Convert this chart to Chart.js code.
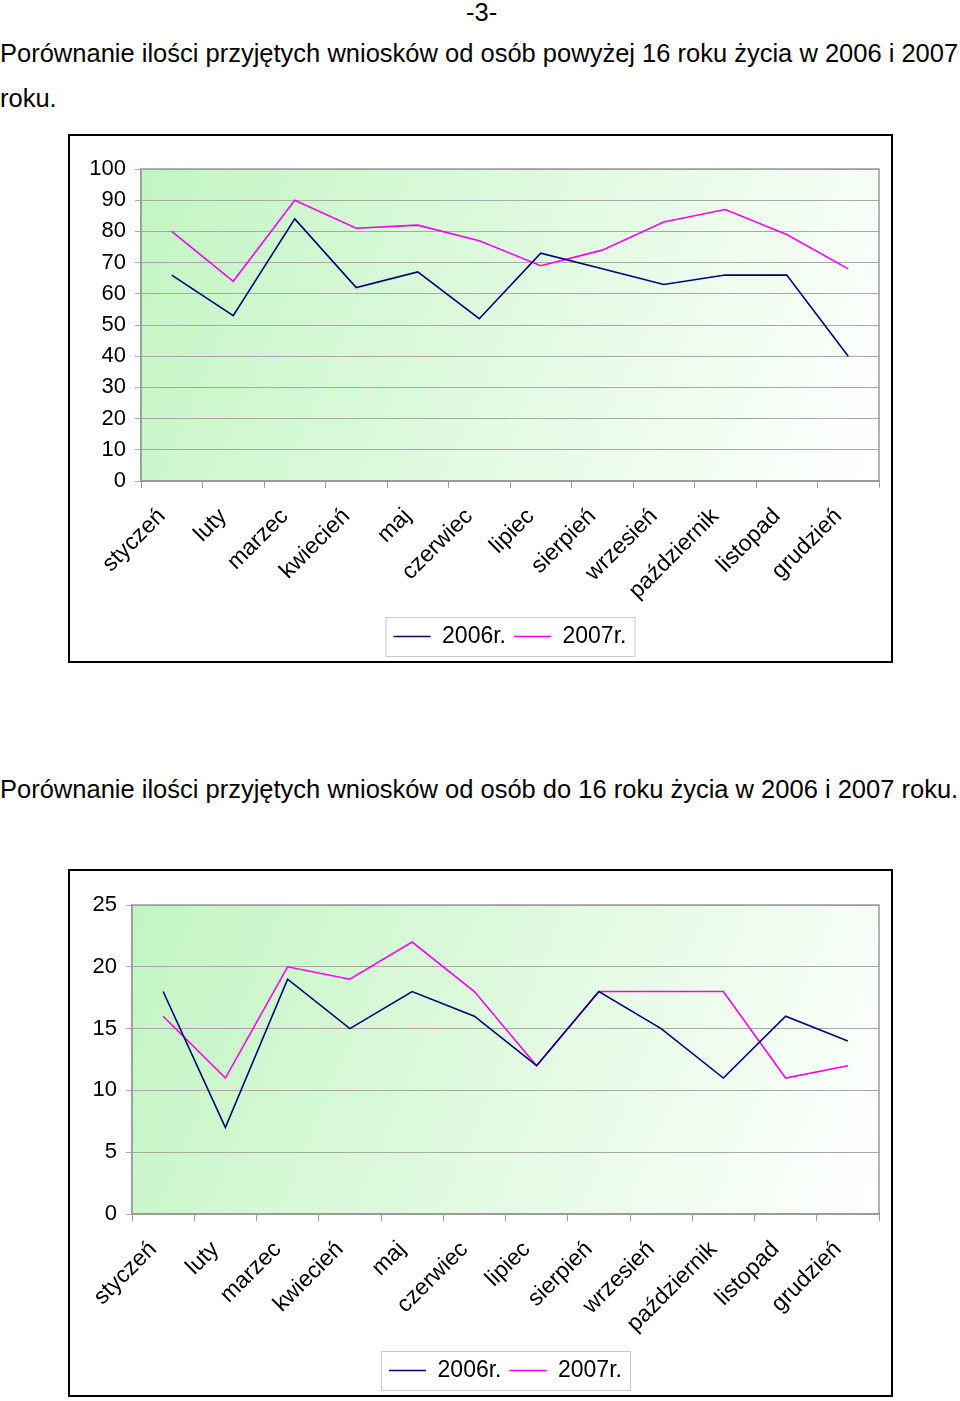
<!DOCTYPE html>
<html>
<head>
<meta charset="utf-8">
<script src="https://cdn.jsdelivr.net/npm/chart.js@4"></script>
<style>
  body { margin: 0; background: #fff; font-family: "Liberation Sans", Arial, sans-serif; color: #000; }
  .page { position: relative; width: 960px; height: 1401px; overflow: hidden; }
  .txt { position: absolute; font-size: 25.5px; white-space: nowrap; line-height: 1; }
  .box { position: absolute; border: 2px solid #000; background: #fff; }
  .box canvas { display: block; }
</style>
</head>
<body>
<div class="page">
  <div class="txt" style="left:466px; top:0px;">-3-</div>
  <div class="txt" style="left:0px; top:41px;">Porównanie ilości przyjętych wniosków od osób powyżej 16 roku życia w 2006 i 2007</div>
  <div class="txt" style="left:0px; top:86px;">roku.</div>
  <div class="txt" style="left:0px; top:777px;">Porównanie ilości przyjętych wniosków od osób do 16 roku życia w 2006 i 2007 roku.</div>

  <div class="box" style="left:68px; top:134px; width:821px; height:525px;">
    <canvas id="chart1" width="821" height="525"></canvas>
  </div>
  <div class="box" style="left:68px; top:869px; width:821px; height:524px;">
    <canvas id="chart2" width="821" height="524"></canvas>
  </div>
</div>

<script>
// ================================
// Data
// ================================

const months = ["styczeń", "luty", "marzec", "kwiecień", "maj", "czerwiec",
  "lipiec", "sierpień", "wrzesień", "październik", "listopad", "grudzień"]

const seriesNames = ["2006r.", "2007r."]

// powyżej 16 roku życia
const over16_2006 = [66, 53, 84, 62, 67, 52, 73, 68, 63, 66, 66, 40]
const over16_2007 = [80, 64, 90, 81, 82, 77, 69, 74, 83, 87, 79, 68]

// do 16 roku życia
const under16_2006 = [18, 7, 19, 15, 18, 16, 12, 18, 15, 11, 16, 14]
const under16_2007 = [16, 11, 20, 19, 22, 18, 12, 18, 18, 18, 11, 12]

Chart.defaults.font.family = "'Liberation Sans', Arial, sans-serif"
Chart.defaults.color = "#000"

// --- plot background gradient, plot frame, legend frame ---
const excelLook = {
  id: "excelLook",
  beforeDraw(chart) {
    const { ctx, chartArea: a } = chart
    let g = ctx.createLinearGradient(a.left, a.top, a.right, a.bottom)
    g.addColorStop(0, "#c2f5c2")
    g.addColorStop(1, "#ffffff")
    ctx.save()
    ctx.fillStyle = g
    ctx.fillRect(a.left, a.top, a.right - a.left, a.bottom - a.top)
    ctx.restore()
  },
  afterDraw(chart) {
    const { ctx, chartArea: a } = chart
    ctx.save()
    ctx.strokeStyle = "#9a9a9a"
    ctx.lineWidth = 1.5
    ctx.strokeRect(a.left, a.top, a.right - a.left, a.bottom - a.top)

    // frame round the legend items
    let boxes = chart.legend.legendHitBoxes
    if (boxes && boxes.length) {
      let first = boxes[0], last = boxes[boxes.length - 1]
      let l = first.left - 8
      let r = last.left + last.width + 8
      let t = first.top - 8
      let b = first.top + first.height + 8
      ctx.strokeStyle = "#c8c8c8"
      ctx.lineWidth = 1
      ctx.strokeRect(l + 0.5, t + 0.5, r - l, b - t)
    }
    ctx.restore()
  }
}

// ================================
// Chart builder
// ================================

function drawLineChart(id, a2006, a2007, yMax, yStep, yAxisWidth, xAxisHeight, pad) {

  return new Chart(document.getElementById(id), {

    type: "line",

    data: {
      labels: months,
      datasets: [
        { label: seriesNames[0], data: a2006, borderColor: "#000070", backgroundColor: "#000070", borderWidth: 1.6 },
        { label: seriesNames[1], data: a2007, borderColor: "#ee00ee", backgroundColor: "#ee00ee", borderWidth: 1.6 }
      ]
    },

    options: {
      responsive: false,
      animation: false,
      layout: { padding: pad },
      elements: {
        point: { radius: 0 },
        line: { tension: 0 }
      },
      plugins: {
        tooltip: { enabled: false },
        legend: {
          position: "bottom",
          fullSize: false,
          labels: {
            usePointStyle: true,
            pointStyle: "line",
            pointStyleWidth: 37,
            padding: 8,
            color: "#000",
            font: { size: 23 }
          }
        }
      },
      scales: {
        x: {
          offset: true,
          afterFit: (scale) => { scale.height = xAxisHeight },
          grid: {
            offset: true,
            drawOnChartArea: false,
            drawTicks: true,
            tickLength: 7,
            color: "#9a9a9a"
          },
          border: { color: "#9a9a9a", width: 1.5 },
          ticks: {
            autoSkip: false,
            maxRotation: 45,
            minRotation: 45,
            padding: 15,
            labelOffset: -10,
            font: { size: 23 }
          }
        },
        y: {
          min: 0,
          max: yMax,
          afterFit: (scale) => { scale.width = yAxisWidth },
          grid: {
            color: "#a8a8a8",
            lineWidth: 1,
            tickLength: 6
          },
          border: { color: "#9a9a9a", width: 1.5 },
          ticks: {
            stepSize: yStep,
            padding: 9,
            font: { size: 22 }
          }
        }
      }
    },

    plugins: [excelLook]

  })

}

drawLineChart("chart1", over16_2006, over16_2007, 100, 10, 71, 136, { top: 33, right: 12, left: 0, bottom: 3 })
drawLineChart("chart2", under16_2006, under16_2007, 25, 5, 62, 137, { top: 34, right: 12, left: 0, bottom: 3 })
</script>
</body>
</html>
